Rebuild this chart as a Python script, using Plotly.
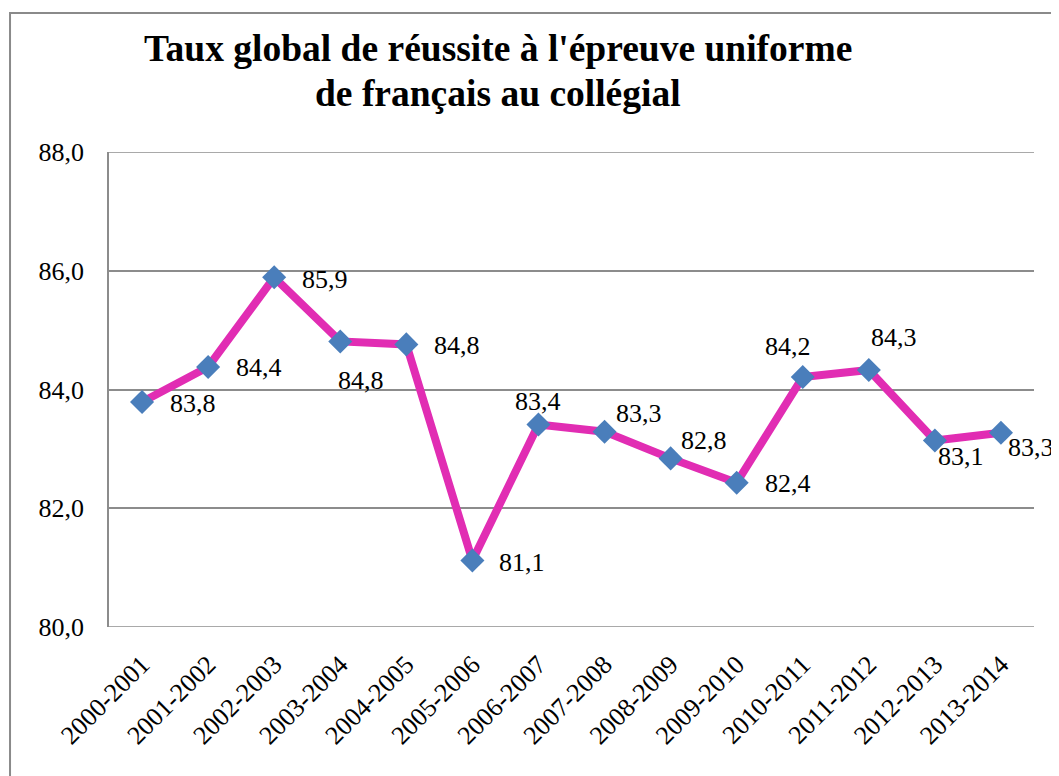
import plotly.graph_objects as go

categories = ["2000-2001", "2001-2002", "2002-2003", "2003-2004", "2004-2005",
              "2005-2006", "2006-2007", "2007-2008", "2008-2009", "2009-2010",
              "2010-2011", "2011-2012", "2012-2013", "2013-2014"]
taux = [83.79, 84.38, 85.89, 84.81, 84.76, 81.12, 83.41, 83.29, 82.84, 82.43,
        84.21, 84.33, 83.14, 83.27]
y_ticks = [80, 82, 84, 86, 88]
y_tick_labels = ["80,0", "82,0", "84,0", "86,0", "88,0"]
title_lines = ["Taux global de réussite à l'épreuve uniforme", "de français au collégial"]

# label offsets (style): pixel shifts of each data label relative to its marker
label_dx = [51, 51, 51, 21, 51, 50, 0, 34, 33, 51, -15, 25, 26, 30]
label_dy = [-2, -1, -2, -39, -1, -2, 23, 18, 18, -1, 31, 32, -16, -15]
title_line_y = [1.2179, 1.1232]

SERIF = "Liberation Serif"
GRID = "#8c8c8c"

fig = go.Figure()
fig.add_trace(go.Scatter(
    x=categories, y=taux, mode="lines+markers",
    line=dict(color="#E12DB3", width=8),
    marker=dict(symbol="diamond", size=18.5, color="#4A7EBB",
                line=dict(width=0)),
    hoverinfo="x+y", showlegend=False,
))

for c, v, dx, dy in zip(categories, taux, label_dx, label_dy):
    fig.add_annotation(x=c, y=v, xref="x", yref="y", showarrow=False,
                       text=f"{v:.1f}".replace(".", ","),
                       xshift=dx, yshift=dy,
                       font=dict(family=SERIF, size=26, color="black"))

for line, ty in zip(title_lines, title_line_y):
    fig.add_annotation(xref="paper", yref="paper", x=0.4205, y=ty,
                       xanchor="center", yanchor="middle", showarrow=False,
                       text="<b>" + line + "</b>",
                       font=dict(family=SERIF, size=37.5, color="black"))

# outer chart frame
fig.add_shape(type="rect", xref="paper", yref="paper",
              x0=-0.107, x1=1.05, y0=-0.4, y1=1.2926,
              line=dict(color="#8a8a8a", width=2), layer="below")

# edge gridlines (plotly hides gridlines lying on the plot edges)
for yv in (y_ticks[0], y_ticks[-1]):
    fig.add_shape(type="line", xref="paper", yref="y", x0=0, x1=1, y0=yv, y1=yv,
                  line=dict(color=GRID, width=1.5), layer="below")

fig.update_layout(
    width=1051, height=768,
    margin=dict(l=101, r=25, t=144, b=149),
    paper_bgcolor="white", plot_bgcolor="white",
    font=dict(family=SERIF),
    xaxis=dict(type="category", range=[-0.5, 13.5], showgrid=False,
               showline=False, zeroline=False, ticks="", tickangle=-45,
               tickfont=dict(family=SERIF, size=26, color="black"),
               ticklabelstandoff=16),
    yaxis=dict(range=[80, 88], tickvals=y_ticks, ticktext=y_tick_labels,
               showgrid=True, gridcolor=GRID, gridwidth=1.5,
               showline=True, linecolor=GRID, linewidth=1.5,
               zeroline=False, ticks="",
               tickfont=dict(family=SERIF, size=26, color="black"),
               ticklabelstandoff=18),
)

fig.write_html("out.html")
